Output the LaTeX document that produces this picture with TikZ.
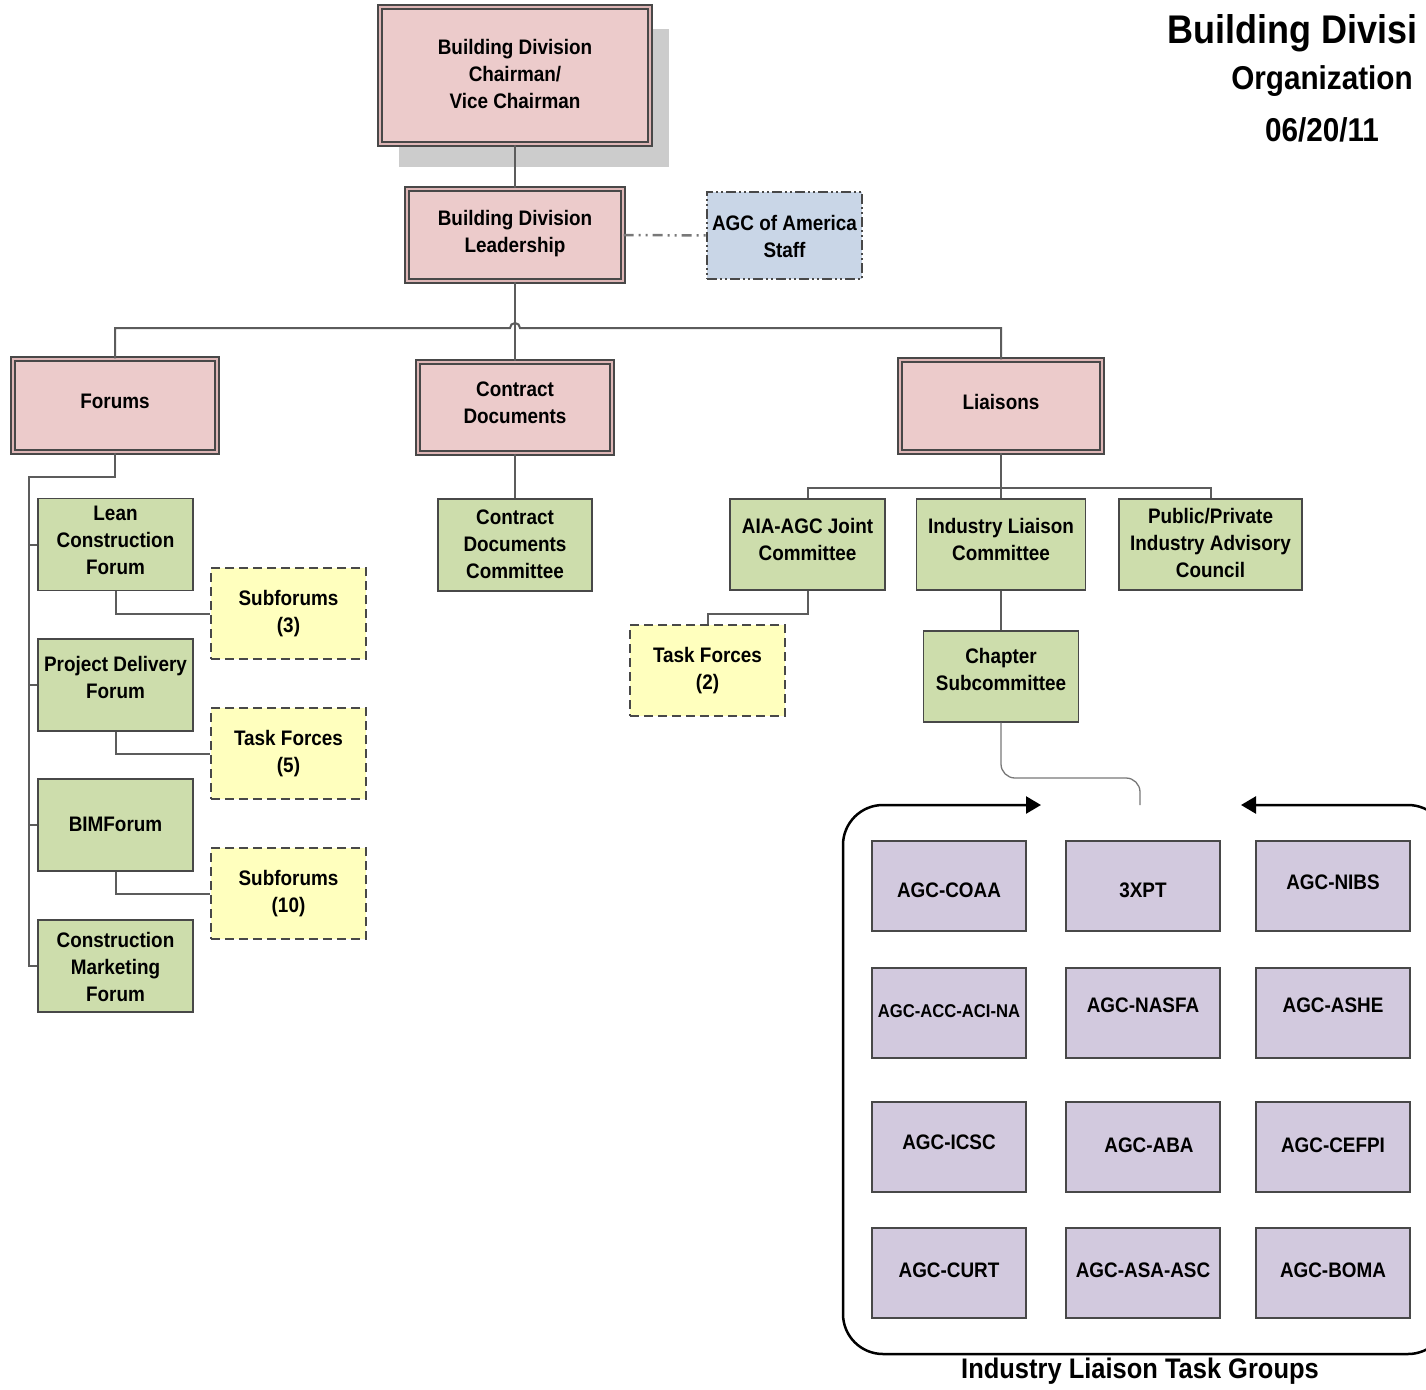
\documentclass[tikz,border=0pt]{standalone}
\usepackage{fontspec}
\setmainfont{Liberation Sans}[FakeStretch=0.9]
\usetikzlibrary{arrows.meta}
\definecolor{pinkF}{RGB}{236,203,203}
\definecolor{pinkM}{RGB}{222,182,182}
\definecolor{bordD}{RGB}{72,72,72}
\definecolor{shadowC}{RGB}{204,204,204}
\definecolor{greenF}{RGB}{205,221,172}
\definecolor{yellowF}{RGB}{255,255,190}
\definecolor{blueF}{RGB}{201,214,231}
\definecolor{lavF}{RGB}{210,201,222}
\definecolor{connC}{RGB}{92,92,92}
\definecolor{thinC}{RGB}{120,120,120}
\newcommand{\bt}[2][0pt]{\raisebox{#1}[\height][\depth]{\begin{tabular}{@{}c@{}}#2\end{tabular}}}
\begin{document}
\begin{tikzpicture}[x=1pt,y=-1pt,
  box/.style={rectangle, inner sep=0pt, text=black,
    font=\bfseries\fontsize{21}{27}\selectfont},
  pinkbox/.style={box, fill=pinkF, draw=bordD, line width=1.3pt, double=pinkM, double distance=2.5pt},
  greenbox/.style={box, fill=greenF, draw=bordD, line width=1.4pt, minimum width=155pt, minimum height=92pt},
  yellowbox/.style={box, fill=yellowF, draw=bordD, line width=1.5pt, dash pattern=on 9pt off 5pt, minimum width=155pt, minimum height=91pt},
  bluebox/.style={box, fill=blueF, draw=bordD, line width=1.5pt, dash pattern=on 10pt off 3pt on 2pt off 3pt on 2pt off 3pt},
  lavbox/.style={box, fill=lavF, draw=bordD, line width=1.2pt, minimum width=154pt, minimum height=90pt},
  conn/.style={draw=connC, line width=2pt},
  thinconn/.style={draw=thinC, line width=1.3pt},
  dashconn/.style={draw=thinC, line width=2.5pt, dash pattern=on 10pt off 5pt on 2pt off 5pt on 2pt off 5pt},
  groupline/.style={draw=black, line width=2.5pt},
  titlefont/.style={inner sep=0pt, text=black}
]
\useasboundingbox (0,0) rectangle (1426,1389);

% title
\node[titlefont, anchor=west, font=\bfseries\fontsize{40}{48}\selectfont] (t1) at (1167,33) {Building Divisi};
\node[titlefont, font=\bfseries\fontsize{33}{40}\selectfont] (t2) at (1322,81) {Organization};
\node[titlefont, font=\bfseries\fontsize{33}{40}\selectfont] (t3) at (1322,130) {06/20/11};

% top levels
\fill[shadowC] (399,29) rectangle (669,167);
\node[pinkbox, minimum width=270pt, minimum height=137pt] (chair) at (515,75.5) {\bt[-1pt]{Building Division\\Chairman/\\Vice Chairman}};
\node[pinkbox, minimum width=216pt, minimum height=92pt] (lead) at (515,235) {\bt[1pt]{Building Division\\Leadership}};
\node[bluebox, minimum width=155pt, minimum height=87pt] (agc) at (784.5,235.5) {\bt[-3pt]{AGC of America\\Staff}};

\node[pinkbox, minimum width=204pt, minimum height=93pt] (forums) at (115,405.5) {\bt[2pt]{Forums}};
\node[pinkbox, minimum width=194pt, minimum height=91pt] (cd) at (515,407.5) {\bt[3pt]{Contract\\Documents}};
\node[pinkbox, minimum width=202pt, minimum height=92pt] (liaisons) at (1001,406) {\bt[2pt]{Liaisons}};

% forums column
\node[greenbox] (lean) at (115.5,544.5) {\bt[2pt]{Lean\\Construction\\Forum}};
\node[greenbox] (pdf) at (115.5,685) {\bt[5pt]{Project Delivery\\Forum}};
\node[greenbox] (bim) at (115.5,825) {\bt[-1pt]{BIMForum}};
\node[greenbox] (cmf) at (115.5,966) {\bt[-3pt]{Construction\\Marketing\\Forum}};

\node[yellowbox] (sub3) at (288.5,613.5) {\bt{Subforums\\(3)}};
\node[yellowbox] (tf5) at (288.5,753.5) {\bt{Task Forces\\(5)}};
\node[yellowbox] (sub10) at (288.5,893.5) {\bt{Subforums\\(10)}};

% contract documents
\node[greenbox, minimum width=154pt] (cdc) at (515,545) {\bt[-1pt]{Contract\\Documents\\Committee}};

% liaisons
\node[greenbox, minimum width=155pt, minimum height=91pt] (aia) at (807.5,544.5) {\bt[3pt]{AIA-AGC Joint\\Committee}};
\node[greenbox, minimum width=169pt, minimum height=91pt] (ilc) at (1001,544.5) {\bt[3pt]{Industry Liaison\\Committee}};
\node[greenbox, minimum width=183pt, minimum height=91pt] (ppiac) at (1210.5,544.5) {\bt[-1pt]{Public/Private\\Industry Advisory\\Council}};
\node[yellowbox] (tf2) at (707.5,670.5) {\bt{Task Forces\\(2)}};
\node[greenbox, minimum width=155pt, minimum height=91pt] (chap) at (1001,676.5) {\bt[5pt]{Chapter\\Subcommittee}};

% task groups grid
\node[lavbox] (coaa) at (949,886) {\bt[-6pt]{AGC-COAA}};
\node[lavbox] (xpt) at (1143,886) {\bt[-6pt]{3XPT}};
\node[lavbox] (nibs) at (1333,886) {\bt[2pt]{AGC-NIBS}};
\node[lavbox] (acc) at (949,1013) {\bt[1pt]{\fontsize{18.5}{22}\selectfont AGC-ACC-ACI-NA}};
\node[lavbox] (nasfa) at (1143,1013) {\bt[6pt]{AGC-NASFA}};
\node[lavbox] (ashe) at (1333,1013) {\bt[6pt]{AGC-ASHE}};
\node[lavbox] (icsc) at (949,1147) {\bt[3pt]{AGC-ICSC}};
\node[lavbox] (aba) at (1143,1147) {\bt{\hspace*{12pt}AGC-ABA}};
\node[lavbox] (cefpi) at (1333,1147) {\bt{AGC-CEFPI}};
\node[lavbox] (curt) at (949,1273) {\bt[1pt]{AGC-CURT}};
\node[lavbox] (asa) at (1143,1273) {\bt[1pt]{AGC-ASA-ASC}};
\node[lavbox] (boma) at (1333,1273) {\bt[1pt]{AGC-BOMA}};

\node[titlefont, font=\bfseries\fontsize{28.3}{34}\selectfont] (glabel) at (1140,1371) {Industry Liaison Task Groups};

% group frame
\coordinate (gR) at (1241,805);
\coordinate (gL) at (1041,805);
\draw[groupline, rounded corners=40pt, {Triangle[length=15pt,width=17pt]}-{Triangle[length=15pt,width=17pt]}]
  (gR) -- (1448,805) -- (1448,1354) -- (843,1354) -- (843,805) -- (gL);

% connectors
\draw[conn] (chair.south) -- (lead.north);
\draw[dashconn] (lead.east) -- (agc.west);
\draw[conn] (lead.south) -- (cd.north);
\coordinate (jl) at (510,328);
\draw[conn] (forums.north) |- (jl) arc[start angle=180, end angle=360, radius=5] -| (liaisons.north);

\coordinate (fb) at (29,477);
\draw[conn] (forums.south) |- (fb) |- (cmf.west);
\draw[conn] (fb |- lean.west) -- (lean.west);
\draw[conn] (fb |- pdf.west) -- (pdf.west);
\draw[conn] (fb |- bim.west) -- (bim.west);
\draw[conn] (lean.south) |- (sub3.west);
\draw[conn] (pdf.south) |- (tf5.west);
\draw[conn] (bim.south) |- (sub10.west);

\draw[conn] (cd.south) -- (cdc.north);

\coordinate (lb) at (1001,488);
\draw[conn] (aia.north) |- (lb) -| (ppiac.north);
\draw[conn] (liaisons.south) -- (ilc.north);
\draw[conn] (aia.south) -- ++(0,23) -| (tf2.north);
\draw[conn] (ilc.south) -- (chap.north);

\coordinate (gbend) at (1140,778);
\coordinate (gin) at (1140,805);
\draw[thinconn, rounded corners=14pt] (chap.south) |- (gbend) -- (gin);
\end{tikzpicture}
\end{document}
